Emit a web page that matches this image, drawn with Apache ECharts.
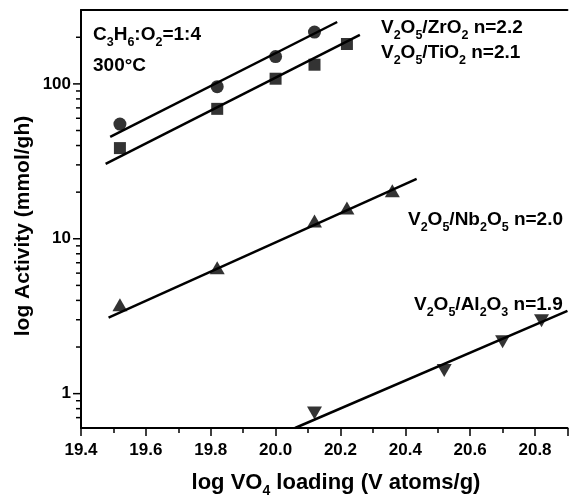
<!DOCTYPE html>
<html>
<head>
<meta charset="utf-8">
<script src="https://cdn.jsdelivr.net/npm/echarts@6/dist/echarts.min.js"></script>
<style>
  html, body { margin: 0; padding: 0; background: #fff; }
  #chart { width: 587px; height: 500px; }
</style>
</head>
<body>
<div id="chart"></div>
<script>
// measured points: log VO4 loading vs activity
const zrLoading = [19.52, 19.82, 20.0, 20.12];
const zrActivity = [55, 96, 150, 216];
const tiLoading = [19.52, 19.82, 20.0, 20.12, 20.22];
const tiActivity = [38.5, 69, 108, 133, 181];
const nbLoading = [19.52, 19.82, 20.12, 20.22, 20.36];
const nbActivity = [3.75, 6.5, 13.0, 15.8, 20.4];
const alLoading = [20.12, 20.52, 20.7, 20.82];
const alActivity = [0.75, 1.41, 2.16, 2.96];

// fitted lines (end points)
const zrFitX = [19.49, 20.19];
const zrFitY = [45.5, 251];
const tiFitX = [19.476, 20.26];
const tiFitY = [30.5, 207];
const nbFitX = [19.485, 20.435];
const nbFitY = [3.1, 24.4];
const alFitX = [20.06, 20.9];
const alFitY = [0.6, 3.42];

// axis ticks
const xMin = 19.4, xMax = 20.9, xStep = 0.2;
const yMin = 0.6, yMax = 300;
const yMajorTicks = [1, 10, 100];
const yMinorTicks = [0.7, 0.8, 0.9, 2, 3, 4, 5, 6, 7, 8, 9, 20, 30, 40, 50, 60, 70, 80, 90, 200];

const FONT = "'Liberation Sans', Arial, sans-serif";

function pairs(xs, ys) {
  return xs.map((x, i) => [x, ys[i]]);
}

function subRich(size, subSize, drop) {
  return {
    n: { fontSize: size, fontWeight: 'bold', fontFamily: FONT, fill: '#000', lineHeight: size, verticalAlign: 'top' },
    s: { fontSize: subSize, fontWeight: 'bold', fontFamily: FONT, fill: '#000', lineHeight: subSize, padding: [drop, 0, 0, 0], verticalAlign: 'top' }
  };
}

function label(x, y, text) {
  return {
    type: 'text', x: x, y: y, silent: true,
    style: { text: text, align: 'left', verticalAlign: 'top', rich: subRich(19, 12.5, 11) }
  };
}

const pointSeries = (data, symbol, size, rotate) => ({
  type: 'scatter',
  data: data,
  symbol: symbol,
  symbolSize: size,
  symbolRotate: rotate || 0,
  itemStyle: { color: '#000' },
  z: 5
});

const fitSeries = (data) => ({
  type: 'line',
  data: data,
  showSymbol: false,
  symbol: 'none',
  lineStyle: { color: '#000', width: 2.5 },
  z: 4
});

const tickSeries = (ticks, len) => ({
  type: 'custom',
  clip: false,
  silent: true,
  data: ticks.map(v => [xMin, v]),
  renderItem: (params, api) => {
    const p = api.coord([api.value(0), api.value(1)]);
    return {
      type: 'line',
      shape: { x1: p[0] - len, y1: p[1], x2: p[0], y2: p[1] },
      style: { stroke: '#000', lineWidth: 1.5 }
    };
  },
  z: 6
});

const chart = echarts.init(document.getElementById('chart'));
chart.setOption({
  animation: false,
  backgroundColor: '#fff',
  grid: { left: 81, top: 10, width: 516, height: 418, containLabel: false },
  xAxis: [
    {
      type: 'value',
      min: xMin, max: xMax, interval: xStep,
      axisLine: { show: true, lineStyle: { color: '#000', width: 2 } },
      axisTick: { show: true, length: 8, lineStyle: { color: '#000', width: 1.5 } },
      minorTick: { show: true, splitNumber: 2, length: 5, lineStyle: { color: '#000', width: 1.5 } },
      splitLine: { show: false },
      axisLabel: {
        margin: 14, color: '#000', fontSize: 17, fontWeight: 'bold', fontFamily: FONT,
        formatter: v => v.toFixed(1)
      }
    },
    {
      type: 'value', position: 'top',
      min: xMin, max: xMax,
      axisLine: { show: true, onZero: false, lineStyle: { color: '#000', width: 2 } },
      axisTick: { show: false }, axisLabel: { show: false }, splitLine: { show: false }
    }
  ],
  yAxis: {
    type: 'log', logBase: 10,
    min: yMin, max: yMax,
    axisLine: { show: true, lineStyle: { color: '#000', width: 2 } },
    axisTick: { show: false },
    splitLine: { show: false },
    axisLabel: {
      margin: 10, color: '#000', fontSize: 17, fontWeight: 'bold', fontFamily: FONT,
      showMinLabel: false, showMaxLabel: false,
      formatter: v => yMajorTicks.some(t => Math.abs(t - v) / t < 1e-6) ? String(Math.round(v)) : ''
    }
  },
  graphic: [
    label(93, 25, '{n|C}{s|3}{n|H}{s|6}{n|:O}{s|2}{n|=1:4}'),
    { type: 'text', x: 93, y: 56, silent: true,
      style: { text: '300°C', fontSize: 19, fontWeight: 'bold', fontFamily: FONT, fill: '#000', align: 'left', verticalAlign: 'top' } },
    label(381, 18, '{n|V}{s|2}{n|O}{s|5}{n|/ZrO}{s|2}{n| n=2.2}'),
    label(381, 43, '{n|V}{s|2}{n|O}{s|5}{n|/TiO}{s|2}{n| n=2.1}'),
    label(408, 210, '{n|V}{s|2}{n|O}{s|5}{n|/Nb}{s|2}{n|O}{s|5}{n| n=2.0}'),
    label(414, 295, '{n|V}{s|2}{n|O}{s|5}{n|/Al}{s|2}{n|O}{s|3}{n| n=1.9}'),
    { type: 'text', x: 23, y: 226, rotation: Math.PI / 2, silent: true,
      style: { text: 'log Activity (mmol/gh)', fontSize: 21, fontWeight: 'bold', fontFamily: FONT, fill: '#000', align: 'center', verticalAlign: 'middle' } },
    { type: 'text', x: 336, y: 472, silent: true,
      style: { text: '{n|log VO}{s|4}{n| loading (V atoms/g)}', align: 'center', verticalAlign: 'top', rich: subRich(22, 14, 12) } }
  ],
  series: [
    fitSeries(pairs(zrFitX, zrFitY)),
    fitSeries(pairs(tiFitX, tiFitY)),
    fitSeries(pairs(nbFitX, nbFitY)),
    fitSeries(pairs(alFitX, alFitY)),
    pointSeries(pairs(zrLoading, zrActivity), 'circle', 13),
    pointSeries(pairs(tiLoading, tiActivity), 'rect', 12),
    pointSeries(pairs(nbLoading, nbActivity), 'triangle', [15, 13]),
    pointSeries(pairs(alLoading, alActivity), 'triangle', [15, 13], 180),
    tickSeries(yMajorTicks, 8),
    tickSeries(yMinorTicks, 5)
  ]
});
</script>
</body>
</html>
